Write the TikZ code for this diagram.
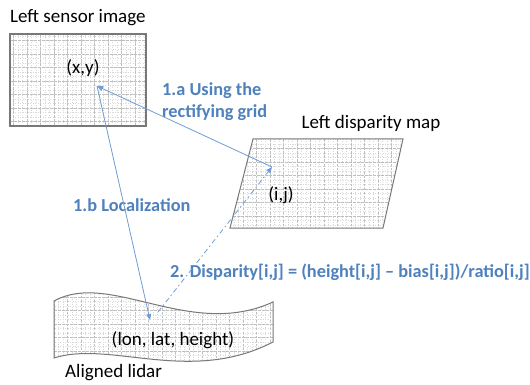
\documentclass[tikz,border=0pt]{standalone}
\usepackage{fontspec}
\setmainfont{Carlito}
\usetikzlibrary{arrows.meta}
\definecolor{labelblue}{RGB}{79,129,189}
\definecolor{linkblue}{RGB}{110,158,212}
\definecolor{edgegray}{RGB}{120,120,120}
\tikzset{
  title/.style={font=\fontsize{19}{21}\selectfont, text=black, inner sep=0pt},
  coord/.style={font=\fontsize{19}{21}\selectfont, text=black, inner sep=0pt},
  steplabel/.style={font=\fontsize{18.3}{22}\selectfont\bfseries, text=labelblue, inner sep=0pt, align=left},
  link/.style={draw=linkblue, line width=0.8pt, -{Triangle[length=6pt,width=5pt]}},
  dashlink/.style={link, dash pattern=on 5pt off 3pt on 1.5pt off 3pt},
  finegrid/.style={draw=gray!30, line width=0.4pt, dash pattern=on 1pt off 1.5pt},
  coarsegrid/.style={draw=gray!50, line width=0.45pt, dash pattern=on 2.5pt off 1.5pt},
  frame/.style={draw=edgegray, line width=1.2pt}
}
\begin{document}
\begin{tikzpicture}[x=1pt,y=-1pt]
\useasboundingbox[fill=white] (0,0) rectangle (530,385);

% ---- Left sensor image (rectangle with a mesh) ----
\begin{scope}
  \clip (10,34) rectangle (146,126);
  \draw[finegrid] (10,34) grid[step=4.5pt] (146,126);
  \draw[coarsegrid] (10,34) grid[step=13.5pt] (146,126);
\end{scope}
\draw[frame] (10,34) rectangle (146,126);

% ---- Left disparity map (parallelogram) ----
\begin{scope}
  \clip (253,139) -- (403,139) -- (383,228) -- (230,228) -- cycle;
  \draw[finegrid] (225,135) grid[step=4.5pt] (410,230);
  \draw[coarsegrid] (225,135) grid[step=13.5pt] (410,230);
\end{scope}
\draw[frame, line width=1pt] (253,139) -- (403,139) -- (383,228) -- (230,228) -- cycle;

% ---- Aligned lidar (wave-shaped sheet) ----
\begin{scope}
  \clip (54,301) .. controls (110,270) and (190,340) .. (273,302)
        -- (273,342) .. controls (190,385) and (110,340) .. (54,358) -- cycle;
  \draw[finegrid] (50,285) grid[step=4.5pt] (280,370);
  \draw[coarsegrid] (50,285) grid[step=13.5pt] (280,370);
\end{scope}
\draw[frame, line width=1pt] (54,301) .. controls (110,270) and (190,340) .. (273,302)
      -- (273,342) .. controls (190,385) and (110,340) .. (54,358) -- cycle;

% ---- Texts ----
\node[title, anchor=base west] (tsensor) at (10,23) {Left sensor image};
\node[title, anchor=base] (tdisp) at (371,129) {Left disparity map};
\node[title, anchor=base west] (tlidar) at (65,377) {Aligned lidar};
\node[coord] (cxy) at (83,68) {(x,y)};
\node[coord] (cij) at (281,195) {(i,j)};
\node[coord] (clon) at (173,340) {(lon, lat, height)};

\node[steplabel, anchor=north west] (la) at (162,82) {1.a Using the\\rectifying grid};
\node[steplabel, anchor=base west] (lb) at (73,211) {1.b Localization};
\node[steplabel, anchor=base west] (lc) at (170,277) {2. Disparity[i,j] = (height[i,j] – bias[i,j])/ratio[i,j]};

% ---- Connector end points ----
\coordinate (pxy) at (97,86);
\coordinate (pij) at (272,167);
\coordinate (plidar) at (150,320);
\coordinate (plidarsrc) at (158,312);

% ---- Connectors ----
\draw[link] (pij) -- (pxy);
\draw[link] (pxy) -- (plidar);
\draw[dashlink] (plidarsrc) -- (pij);
\end{tikzpicture}
\end{document}
